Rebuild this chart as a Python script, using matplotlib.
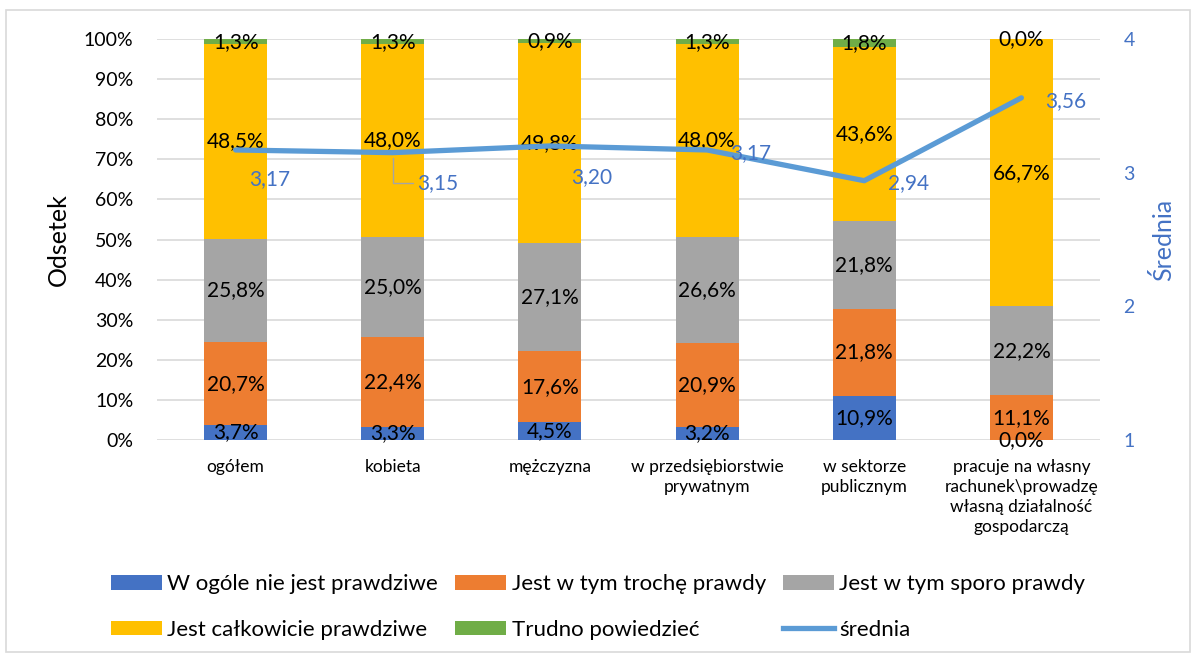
import matplotlib
matplotlib.use("Agg")
import matplotlib.pyplot as plt
import numpy as np
from matplotlib.patches import Rectangle, Patch
from matplotlib.lines import Line2D

plt.rcParams['font.family'] = ['Lato', 'DejaVu Sans']

categories = [
    "ogółem",
    "kobieta",
    "mężczyzna",
    "w przedsiębiorstwie\nprywatnym",
    "w sektorze\npublicznym",
    "pracuje na własny\nrachunek\\prowadzę\nwłasną działalność\ngospodarczą",
]
series_names = [
    "W ogóle nie jest prawdziwe",
    "Jest w tym trochę prawdy",
    "Jest w tym sporo prawdy",
    "Jest całkowicie prawdziwe",
    "Trudno powiedzieć",
]
nie_prawdziwe = [3.7, 3.3, 4.5, 3.2, 10.9, 0.0]
troche_prawdy = [20.7, 22.4, 17.6, 20.9, 21.8, 11.1]
sporo_prawdy = [25.8, 25.0, 27.1, 26.6, 21.8, 22.2]
calkowicie = [48.5, 48.0, 49.8, 48.0, 43.6, 66.7]
trudno = [1.3, 1.3, 0.9, 1.3, 1.8, 0.0]
srednia = [3.17, 3.15, 3.20, 3.17, 2.94, 3.56]

colors = ["#4472C4", "#ED7D31", "#A5A5A5", "#FFC000", "#70AD47"]
line_color = "#5B9BD5"
label_blue = "#4472C4"
grid_color = "#D9D9D9"

fig = plt.figure(figsize=(11.96, 6.57), dpi=100)
ax = fig.add_axes([0.1313, 0.3303, 0.7884, 0.6103])
ax2 = ax.twinx()

x = np.arange(len(categories))
bottom = np.zeros(len(categories))
for vals, col in zip([nie_prawdziwe, troche_prawdy, sporo_prawdy, calkowicie, trudno], colors):
    vals = np.array(vals)
    ax.bar(x, vals, width=0.4, bottom=bottom, color=col, zorder=2)
    for xi, b, v in zip(x, bottom, vals):
        ax.text(xi, b + v / 2, f"{v:.1f}%".replace(".", ","), ha="center", va="center",
                fontsize=15, color="black", zorder=5)
    bottom += vals

ax.set_xlim(-0.5, len(categories) - 0.5)
ax.set_ylim(0, 100)
ax.set_yticks(np.arange(0, 101, 10))
ax.set_yticklabels([f"{v}%" for v in range(0, 101, 10)], fontsize=14)
ax.set_xticks(x)
ax.set_xticklabels(categories, fontsize=12.5, linespacing=1.3)
ax.tick_params(axis="both", length=0)
ax.tick_params(axis="y", pad=17)
ax.tick_params(axis="x", pad=14)
ax.yaxis.grid(True, color=grid_color, linewidth=1.2, zorder=0)
ax.set_axisbelow(True)
for s in ax.spines.values():
    s.set_visible(False)
ax.set_ylabel("Odsetek", fontsize=18, labelpad=10)

ax2.plot(x, srednia, color=line_color, linewidth=3.8, solid_capstyle="round", zorder=4)
ax2.set_ylim(1, 4)
ax2.set_yticks([1, 2, 3, 4])
ax2.set_yticklabels(["1", "2", "3", "4"], fontsize=14, color=label_blue)
ax2.tick_params(axis="y", length=0, pad=17)
for s in ax2.spines.values():
    s.set_visible(False)
ax2.set_ylabel("Średnia", fontsize=18, color=label_blue, rotation=90, labelpad=12)

# value labels for the mean line (offsets in pixels)
offsets = [(34, -29), (45, -30), (42, -31), (44, -3), (44, -2), (44, -3)]
for i, (xi, v) in enumerate(zip(x, srednia)):
    txt = f"{v:.2f}".replace(".", ",")
    if i == 1:
        ax2.annotate(txt, xy=(xi, v), xytext=offsets[i], textcoords="offset pixels",
                     ha="center", va="center", fontsize=15, color=label_blue, zorder=6,
                     arrowprops=dict(arrowstyle="-", color="#A5A5A5", lw=1,
                                     connectionstyle="angle,angleA=0,angleB=90,rad=0",
                                     shrinkA=1, shrinkB=4))
    else:
        ax2.annotate(txt, xy=(xi, v), xytext=offsets[i], textcoords="offset pixels",
                     ha="center", va="center", fontsize=15, color=label_blue, zorder=6)

handles = [Patch(facecolor=c) for c in colors] + [Line2D([0], [0], color=line_color, linewidth=3.8)]
labels = series_names + ["średnia"]
order = [0, 3, 1, 4, 2, 5]
fig.legend([handles[i] for i in order], [labels[i] for i in order], ncol=3,
           loc="center", bbox_to_anchor=(0.5, 0.076), frameon=False, fontsize=16,
           handlelength=2.3, handleheight=0.6, handletextpad=0.25, columnspacing=0.75,
           labelspacing=1.15)

fig.patches.append(Rectangle((6 / 1196, 5 / 657), 1184 / 1196, 642 / 657, transform=fig.transFigure,
                             fill=False, edgecolor=grid_color, linewidth=1.2))

fig.savefig("out.png", dpi=100)
